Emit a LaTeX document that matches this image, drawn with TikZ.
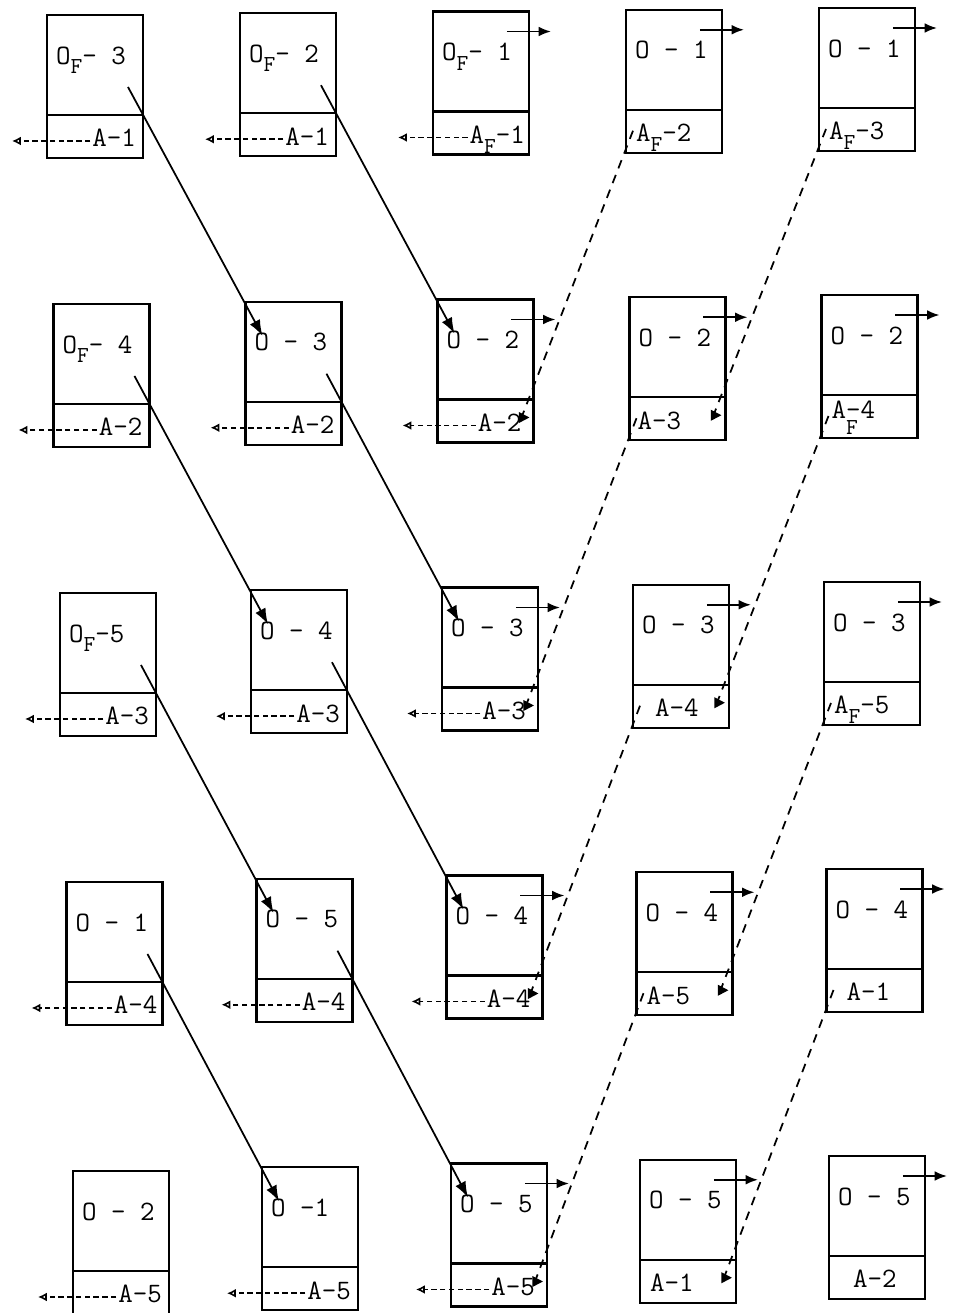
\documentclass[tikz,border=0pt]{standalone}
\usetikzlibrary{arrows.meta,positioning,calc}
\newcommand{\subF}{\raisebox{-0.8ex}{\fontsize{13}{13}\selectfont F}}
\newcommand{\Funder}{\makebox[0pt][l]{\raisebox{-1.35ex}{\fontsize{13}{13}\selectfont F}}}
% one record: id, column, row, upper text, lower text, side, shift
\newcommand{\oacell}[7]{%
  \pgfmathsetmacro{\cx}{47+193*#2+(6.5-#2)*#3}%
  \pgfmathsetmacro{\cy}{15+289*#3-(1.75+0.5*#3)*#2}%
  \node[opart] (o#1) at (\cx,\cy) {};
  \node[apart, below=0pt of o#1] (a#1) {};
  \node[lbl, anchor=base west] (lo#1) at ($(o#1.north west)+(7,49)$) {#4};
  \node[lbl, anchor=base #6] (la#1) at ($(a#1.south #6)+(#7,-11)$) {#5};
}

\begin{document}
\begin{tikzpicture}[x=0.02cm, y=-0.02cm,
    opart/.style={draw, line width=1.3pt, minimum width=1.92cm, minimum height=2cm,
      anchor=north west, inner sep=0pt, outer sep=0pt},
    apart/.style={draw, line width=1.3pt, minimum width=1.92cm, minimum height=0.86cm,
      inner sep=0pt, outer sep=0pt},
    lbl/.style={inner sep=1pt, font=\ttfamily\fontsize{16}{18}\selectfont},
    link/.style={-{Latex[length=9pt,width=6.5pt]}, line width=1pt},
    outarr/.style={-{Latex[length=7pt,width=5.5pt]}, line width=1pt},
    back/.style={-{Latex[open,length=5pt,width=5pt]}, dash pattern=on 3pt off 2pt,
      line width=0.9pt},
    feed/.style={-{Triangle[length=6pt,width=6pt]}, dash pattern=on 5pt off 4pt,
      line width=1pt}]
  \useasboundingbox (0,0) rectangle (962,1313);

  % row 1
  \oacell{11}{0}{0}{O\subF- 3}{A-1}{east}{-5}
  \oacell{12}{1}{0}{O\subF- 2}{A-1}{east}{-5}
  \oacell{13}{2}{0}{O\subF- 1}{A\subF-1}{east}{-2}
  \oacell{14}{3}{0}{O - 1}{A\subF-2}{west}{8}
  \oacell{15}{4}{0}{O - 1}{A\subF-3}{west}{8}
  % row 2
  \oacell{21}{0}{1}{O\subF- 4}{A-2}{east}{-5}
  \oacell{22}{1}{1}{O - 3}{A-2}{east}{-5}
  \oacell{23}{2}{1}{O - 2}{A-2}{east}{-10}
  \oacell{24}{3}{1}{O - 2}{A-3}{west}{6}
  \oacell{25}{4}{1}{O - 2}{\raisebox{0.3em}{A\Funder-4}}{west}{8}
  % row 3
  \oacell{31}{0}{2}{O\subF-5}{A-3}{east}{-5}
  \oacell{32}{1}{2}{O - 4}{A-3}{east}{-5}
  \oacell{33}{2}{2}{O - 3}{A-3}{east}{-10}
  \oacell{34}{3}{2}{O - 3}{A-4}{west}{20}
  \oacell{35}{4}{2}{O - 3}{A\subF-5}{west}{8}
  % row 4
  \oacell{41}{0}{3}{O - 1}{A-4}{east}{-3}
  \oacell{42}{1}{3}{O - 5}{A-4}{east}{-5}
  \oacell{43}{2}{3}{O - 4}{A-4}{east}{-10}
  \oacell{44}{3}{3}{O - 4}{A-5}{west}{8}
  \oacell{45}{4}{3}{O - 4}{A-1}{west}{18}
  % row 5
  \oacell{51}{0}{4}{O - 2}{A-5}{east}{-5}
  \oacell{52}{1}{4}{O -1}{A-5}{east}{-5}
  \oacell{53}{2}{4}{O - 5}{A-5}{east}{-10}
  \oacell{54}{3}{4}{O - 5}{A-1}{west}{8}
  \oacell{55}{4}{4}{O - 5}{A-2}{west}{22}

  % solid links down the first columns
  \foreach \r/\s in {1/2,2/3,3/4,4/5}
    \foreach \c/\d in {1/2,2/3}
      \draw[link] ($(o\r\c.south east)+(-15,-28)$) -- ($(o\s\d.north west)+(17,34)$);

  % short exits to the right
  \foreach \r in {1,...,5}
    \foreach \c in {3,4,5}
      \draw[outarr] ($(o\r\c.north east)+(-22,20)$) -- ($(o\r\c.north east)+(22,20)$);

  % dashed returns to the left
  \foreach \r in {1,...,5}
    \foreach \c in {1,2,3}
      \draw[back] ($(la\r\c.base west)+(0,-6)$) -- ($(la\r\c.base west -| a\r\c.west)+(-35,-6)$);

  % dashed feeds back from the right columns
  \foreach \r/\s in {1/2,2/3,3/4,4/5}
    \foreach \c/\d in {4/3,5/4}
      \draw[feed] ($(a\r\c.south west)+(7,-22)$) -- ($(a\s\d.north east)+(-12,18)$) -- ++(8,0);
\end{tikzpicture}
\end{document}
